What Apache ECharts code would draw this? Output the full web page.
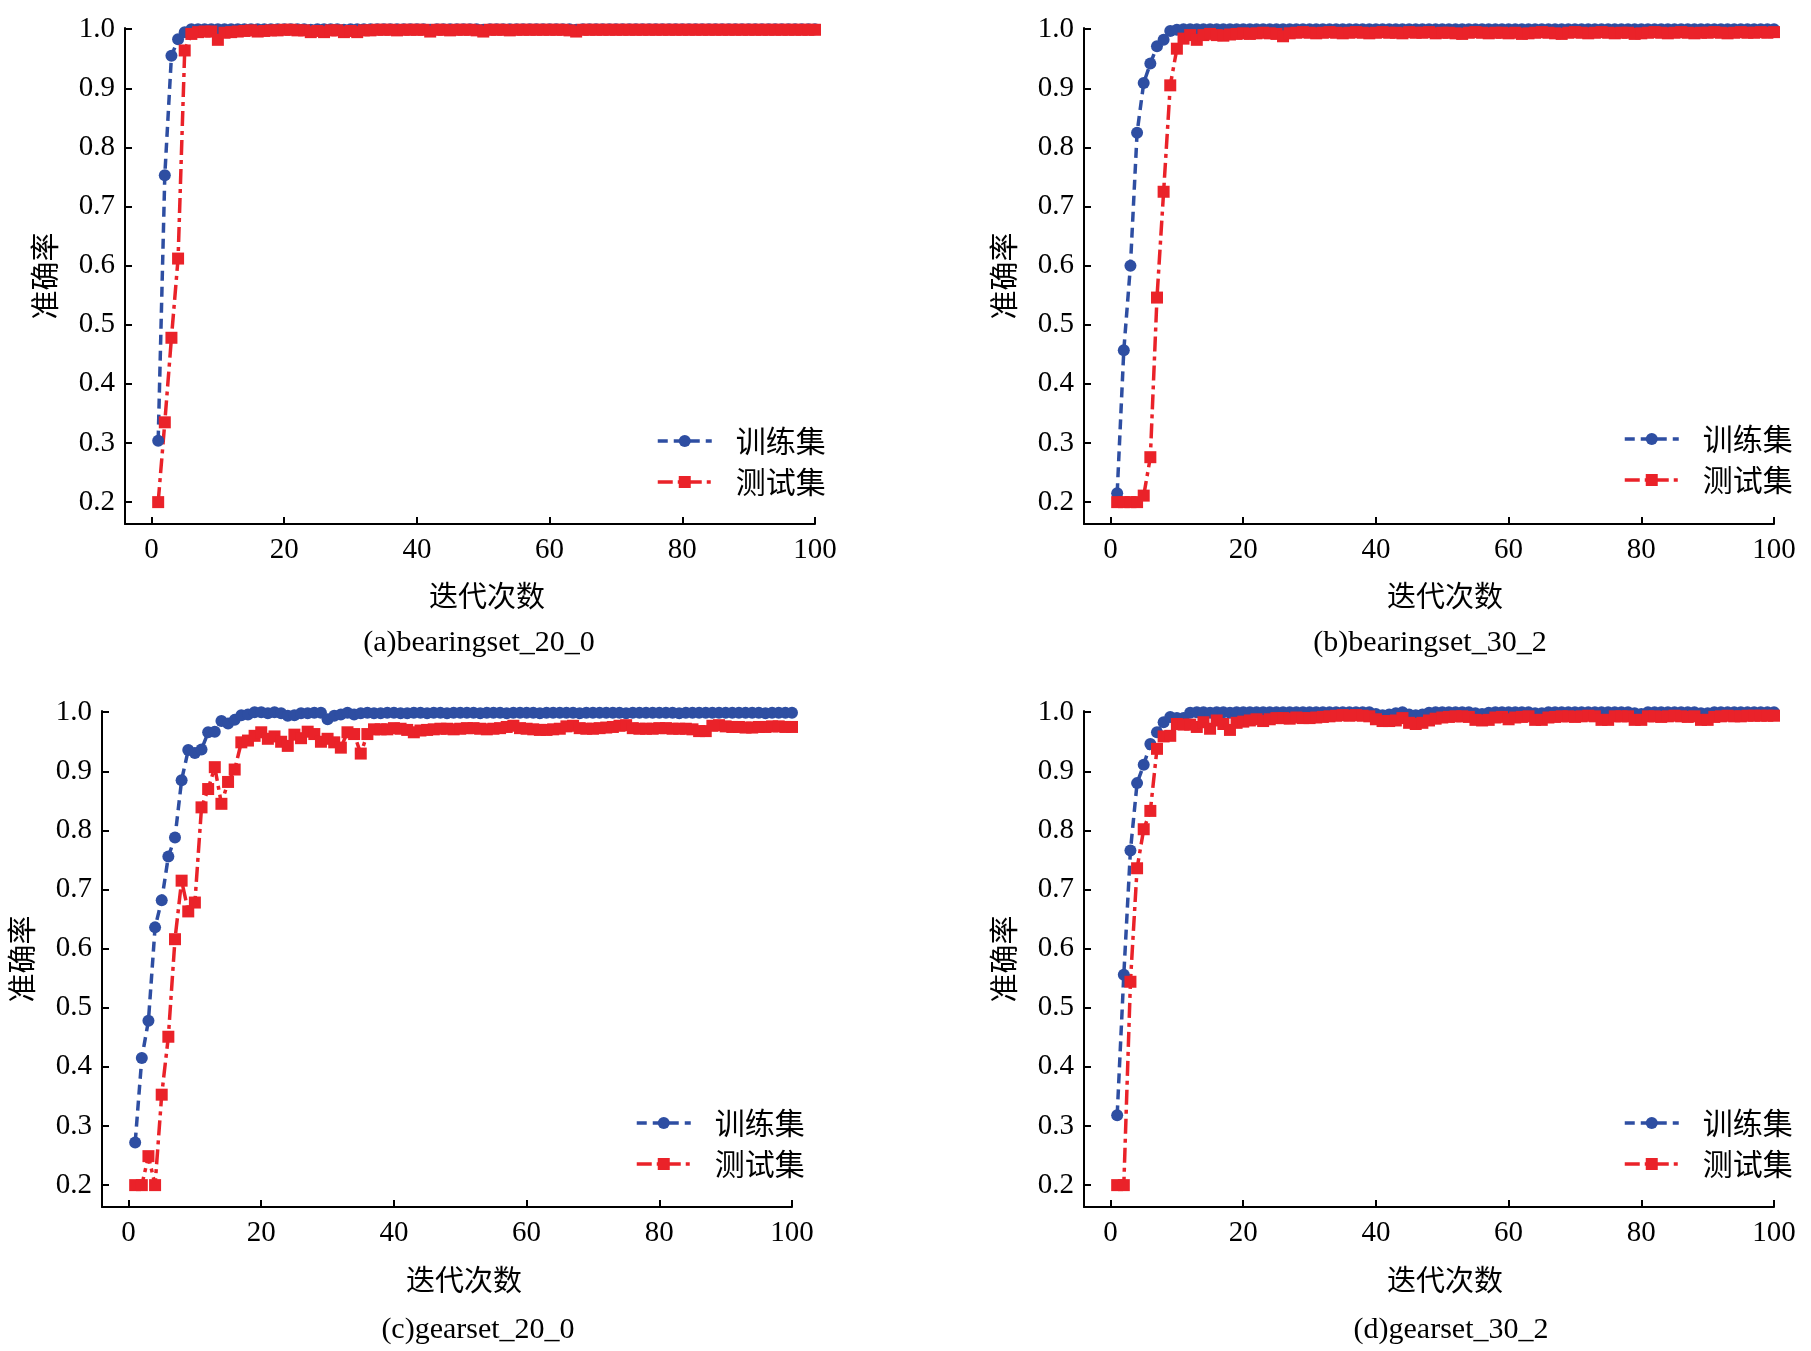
<!DOCTYPE html>
<html>
<head>
<meta charset="utf-8">
<script src="https://cdn.jsdelivr.net/npm/echarts@6/dist/echarts.min.js"></script>
<style>
html,body{margin:0;padding:0;background:#fff;}
#main{width:1811px;height:1351px;}
</style>
</head>
<body>
<div id="main"></div>
<script>
// tick labels
var xTicks = [0, 20, 40, 60, 80, 100];
var yTicks = [0.2, 0.3, 0.4, 0.5, 0.6, 0.7, 0.8, 0.9, 1.0];
var seriesNames = ['训练集', '测试集'];
var captions = ['(a)bearingset_20_0', '(b)bearingset_30_2', '(c)gearset_20_0', '(d)gearset_30_2'];

// (a) bearingset_20_0
var trainA = [0.304,0.753,0.955,0.983,0.995,1.000,1.000,1.000,1.000,1.000,
    1.000,1.000,1.000,1.000,1.000,1.000,1.000,1.000,1.000,1.000,
    1.000,1.000,1.000,0.999,1.000,1.000,1.000,1.000,0.999,1.000,
    1.000,1.000,1.000,1.000,1.000,1.000,1.000,1.000,1.000,1.000,
    1.000,0.999,1.000,1.000,1.000,1.000,1.000,1.000,1.000,0.999,
    1.000,1.000,1.000,1.000,1.000,1.000,1.000,1.000,1.000,1.000,
    1.000,1.000,1.000,0.999,1.000,1.000,1.000,1.000,1.000,1.000,
    1.000,1.000,1.000,1.000,1.000,1.000,1.000,1.000,1.000,1.000,
    1.000,1.000,1.000,1.000,1.000,1.000,1.000,1.000,1.000,1.000,
    1.000,1.000,1.000,1.000,1.000,1.000,1.000,1.000,1.000,1.000];
var testA = [0.200,0.335,0.478,0.612,0.964,0.992,0.995,0.996,0.996,0.982,
    0.994,0.995,0.996,0.997,0.998,0.996,0.997,0.998,0.998,0.999,
    0.999,0.998,0.998,0.995,0.997,0.995,0.998,0.998,0.995,0.997,
    0.995,0.998,0.998,0.999,0.999,0.999,0.998,0.999,0.999,0.999,
    0.999,0.996,0.999,0.999,0.998,0.999,0.999,0.999,0.998,0.996,
    0.999,0.999,0.999,0.998,0.999,0.999,0.999,0.999,0.999,0.999,
    0.999,0.999,0.998,0.996,0.999,0.999,0.999,0.999,0.999,0.999,
    0.999,0.999,0.999,0.999,0.999,0.999,0.999,0.999,0.999,0.999,
    0.999,0.999,0.999,0.999,0.999,0.999,0.999,0.999,0.999,0.999,
    0.999,0.999,0.999,0.999,0.999,0.999,0.999,0.999,0.999,0.999];

// (b) bearingset_30_2
var trainB = [0.215,0.457,0.600,0.825,0.909,0.942,0.971,0.982,0.997,0.999,
    1.000,1.000,1.000,1.000,1.000,1.000,1.000,1.000,1.000,1.000,
    1.000,1.000,1.000,1.000,1.000,1.000,1.000,1.000,1.000,1.000,
    1.000,1.000,1.000,1.000,1.000,1.000,1.000,1.000,1.000,1.000,
    1.000,1.000,1.000,1.000,1.000,1.000,1.000,1.000,1.000,1.000,
    1.000,1.000,1.000,1.000,1.000,1.000,1.000,1.000,1.000,1.000,
    1.000,1.000,1.000,1.000,1.000,1.000,1.000,1.000,1.000,1.000,
    1.000,1.000,1.000,1.000,1.000,1.000,1.000,1.000,1.000,1.000,
    1.000,1.000,1.000,1.000,1.000,1.000,1.000,1.000,1.000,1.000,
    1.000,1.000,1.000,1.000,1.000,1.000,1.000,1.000,1.000,1.000];
var testB = [0.200,0.200,0.200,0.200,0.211,0.276,0.546,0.725,0.905,0.967,
    0.984,0.990,0.982,0.990,0.992,0.990,0.989,0.991,0.992,0.993,
    0.992,0.993,0.994,0.993,0.992,0.988,0.993,0.994,0.995,0.994,
    0.993,0.994,0.995,0.994,0.993,0.994,0.995,0.994,0.993,0.994,
    0.995,0.994,0.994,0.993,0.995,0.994,0.994,0.995,0.993,0.994,
    0.994,0.993,0.992,0.994,0.995,0.994,0.993,0.994,0.994,0.993,
    0.994,0.992,0.993,0.994,0.995,0.994,0.993,0.992,0.994,0.995,
    0.994,0.993,0.994,0.995,0.994,0.993,0.994,0.994,0.992,0.993,
    0.994,0.995,0.994,0.993,0.994,0.995,0.994,0.993,0.994,0.994,
    0.995,0.994,0.993,0.994,0.995,0.994,0.994,0.995,0.994,0.995];

// (c) gearset_20_0
var trainC = [0.272,0.415,0.478,0.636,0.682,0.756,0.788,0.885,0.936,0.931,
    0.937,0.966,0.967,0.985,0.981,0.987,0.995,0.996,1.000,1.000,
    0.998,1.000,0.998,0.994,0.995,0.998,0.998,0.999,0.999,0.988,
    0.994,0.996,0.999,0.996,0.998,0.999,0.998,0.998,0.999,0.999,
    0.998,0.998,0.999,0.999,0.998,0.999,0.999,0.998,0.999,0.999,
    0.999,0.999,0.998,0.999,0.999,0.999,0.998,0.999,0.999,0.999,
    0.999,0.998,0.999,0.999,0.999,0.999,0.999,0.998,0.999,0.999,
    0.999,0.999,0.999,0.999,0.998,0.999,0.999,0.999,0.999,0.999,
    0.999,0.999,0.998,0.999,0.999,0.999,0.999,0.999,0.999,0.999,
    0.999,0.999,0.999,0.999,0.999,0.998,0.999,0.999,0.999,0.999];
var testC = [0.200,0.200,0.249,0.200,0.353,0.451,0.616,0.715,0.663,0.678,
    0.839,0.870,0.907,0.845,0.882,0.903,0.949,0.952,0.960,0.966,
    0.955,0.959,0.950,0.943,0.962,0.956,0.967,0.963,0.950,0.955,
    0.949,0.940,0.966,0.963,0.930,0.963,0.971,0.971,0.971,0.973,
    0.972,0.970,0.966,0.969,0.970,0.971,0.972,0.972,0.971,0.972,
    0.973,0.973,0.972,0.971,0.972,0.973,0.975,0.977,0.973,0.972,
    0.971,0.970,0.970,0.971,0.972,0.976,0.977,0.973,0.972,0.972,
    0.973,0.974,0.975,0.977,0.978,0.973,0.972,0.972,0.972,0.973,
    0.973,0.972,0.972,0.972,0.971,0.968,0.968,0.977,0.978,0.976,
    0.975,0.975,0.974,0.974,0.975,0.975,0.976,0.976,0.975,0.975];

// (d) gearset_30_2
var trainD = [0.318,0.556,0.766,0.880,0.911,0.946,0.966,0.983,0.992,0.990,
    0.990,0.999,1.000,1.000,0.999,1.000,1.000,0.999,1.000,1.000,
    1.000,1.000,1.000,1.000,1.000,1.000,1.000,1.000,1.000,1.000,
    1.000,1.000,1.000,1.000,1.000,1.000,1.000,1.000,1.000,0.997,
    0.995,0.996,0.998,1.000,0.996,0.995,0.996,0.999,1.000,1.000,
    1.000,1.000,1.000,1.000,0.998,0.997,0.999,1.000,1.000,1.000,
    1.000,1.000,1.000,0.998,0.998,1.000,1.000,1.000,1.000,1.000,
    1.000,1.000,1.000,1.000,1.000,1.000,1.000,1.000,0.998,0.997,
    1.000,1.000,1.000,1.000,1.000,1.000,1.000,1.000,0.998,0.998,
    1.000,1.000,1.000,1.000,1.000,1.000,1.000,1.000,1.000,1.000];
var testD = [0.200,0.200,0.544,0.736,0.802,0.833,0.938,0.959,0.960,0.980,
    0.979,0.979,0.975,0.983,0.972,0.986,0.980,0.970,0.982,0.984,
    0.986,0.988,0.985,0.988,0.990,0.990,0.989,0.991,0.990,0.990,
    0.991,0.992,0.993,0.994,0.995,0.994,0.995,0.994,0.993,0.988,
    0.985,0.985,0.986,0.990,0.982,0.980,0.982,0.986,0.989,0.991,
    0.992,0.993,0.993,0.992,0.987,0.986,0.987,0.991,0.992,0.988,
    0.991,0.992,0.993,0.987,0.987,0.991,0.992,0.993,0.993,0.992,
    0.993,0.994,0.993,0.987,0.987,0.993,0.993,0.993,0.987,0.987,
    0.993,0.993,0.992,0.993,0.994,0.993,0.992,0.993,0.987,0.987,
    0.992,0.993,0.994,0.993,0.993,0.994,0.994,0.994,0.994,0.994];

var trainSets = [trainA, trainB, trainC, trainD];
var testSets = [testA, testB, testC, testD];

var blue = '#2e4ea2';
var red = '#ea2229';
var numFont = '"Liberation Serif","Times New Roman",serif';
var cjkFont = '"Noto Sans CJK SC",sans-serif';

// panel placement on the page
var grids = [
    {left: 125, top: 28, width: 690, height: 496},
    {left: 1084, top: 28, width: 690, height: 496},
    {left: 102, top: 711, width: 690, height: 496},
    {left: 1084, top: 711, width: 690, height: 496}
];
var legendPos = [[651, 421], [1618, 419], [630, 1103], [1618, 1103]];
var xNamePos = [[487, 596], [1445, 596], [464, 1280], [1445, 1280]];
var captionPos = [[479, 643], [1430, 643], [478, 1330], [1451, 1330]];

function toPairs(values) {
    var out = [];
    for (var i = 0; i < values.length; i++) {
        out.push([i + 1, values[i]]);
    }
    return out;
}

function buildOption() {
    var option = {
        backgroundColor: '#fff',
        animation: false,
        grid: [], xAxis: [], yAxis: [], legend: [], series: [], graphic: []
    };
    for (var k = 0; k < 4; k++) {
        option.grid.push(grids[k]);
        option.xAxis.push({
            type: 'value', gridIndex: k, min: -4, max: 100,
            axisLine: {onZero: false, lineStyle: {color: '#000', width: 2}},
            axisTick: {inside: true, length: 7, customValues: xTicks, lineStyle: {color: '#000', width: 2}},
            axisLabel: {customValues: xTicks, color: '#000', fontSize: 29, fontFamily: numFont, margin: 12},
            splitLine: {show: false}
        });
        option.yAxis.push({
            type: 'value', gridIndex: k, min: 0.163, max: 1.002,
            name: '准确率', nameLocation: 'middle', nameRotate: 90, nameGap: 66,
            nameTextStyle: {color: '#000', fontSize: 29, fontFamily: cjkFont},
            axisLine: {show: true, onZero: false, lineStyle: {color: '#000', width: 2}},
            axisTick: {show: true, inside: true, length: 7, customValues: yTicks, lineStyle: {color: '#000', width: 2}},
            axisLabel: {customValues: yTicks, color: '#000', fontSize: 29, fontFamily: numFont, margin: 10,
                formatter: function (v) { return v.toFixed(1); }},
            splitLine: {show: false}
        });
        option.legend.push({
            orient: 'vertical', left: legendPos[k][0], top: legendPos[k][1],
            data: seriesNames, itemWidth: 54, itemHeight: 15, itemGap: 11,
            lineStyle: {width: 3.5},
            textStyle: {color: '#000', fontSize: 30, fontFamily: cjkFont, lineHeight: 30, padding: [0, 0, 0, 19]}
        });
        option.series.push({
            name: seriesNames[0], type: 'line', xAxisIndex: k, yAxisIndex: k,
            data: toPairs(trainSets[k]), symbol: 'circle', symbolSize: 12, showAllSymbol: true, clip: false,
            itemStyle: {color: blue},
            lineStyle: {color: blue, width: 3.5, type: [10, 6]}
        });
        option.series.push({
            name: seriesNames[1], type: 'line', xAxisIndex: k, yAxisIndex: k,
            data: toPairs(testSets[k]), symbol: 'rect', symbolSize: 12, showAllSymbol: true, clip: false,
            itemStyle: {color: red},
            lineStyle: {color: red, width: 3.5, type: [15, 5, 4, 5]}
        });
        option.graphic.push({
            type: 'text', x: xNamePos[k][0], y: xNamePos[k][1],
            style: {text: '迭代次数', fill: '#000', font: '29px ' + cjkFont, textAlign: 'center', textVerticalAlign: 'middle'}
        });
        option.graphic.push({
            type: 'text', x: captionPos[k][0], y: captionPos[k][1],
            style: {text: captions[k], fill: '#000', font: '30px ' + numFont, textAlign: 'center', textVerticalAlign: 'middle'}
        });
    }
    return option;
}

var myChart = echarts.init(document.getElementById('main'));
myChart.setOption(buildOption());
</script>
</body>
</html>
